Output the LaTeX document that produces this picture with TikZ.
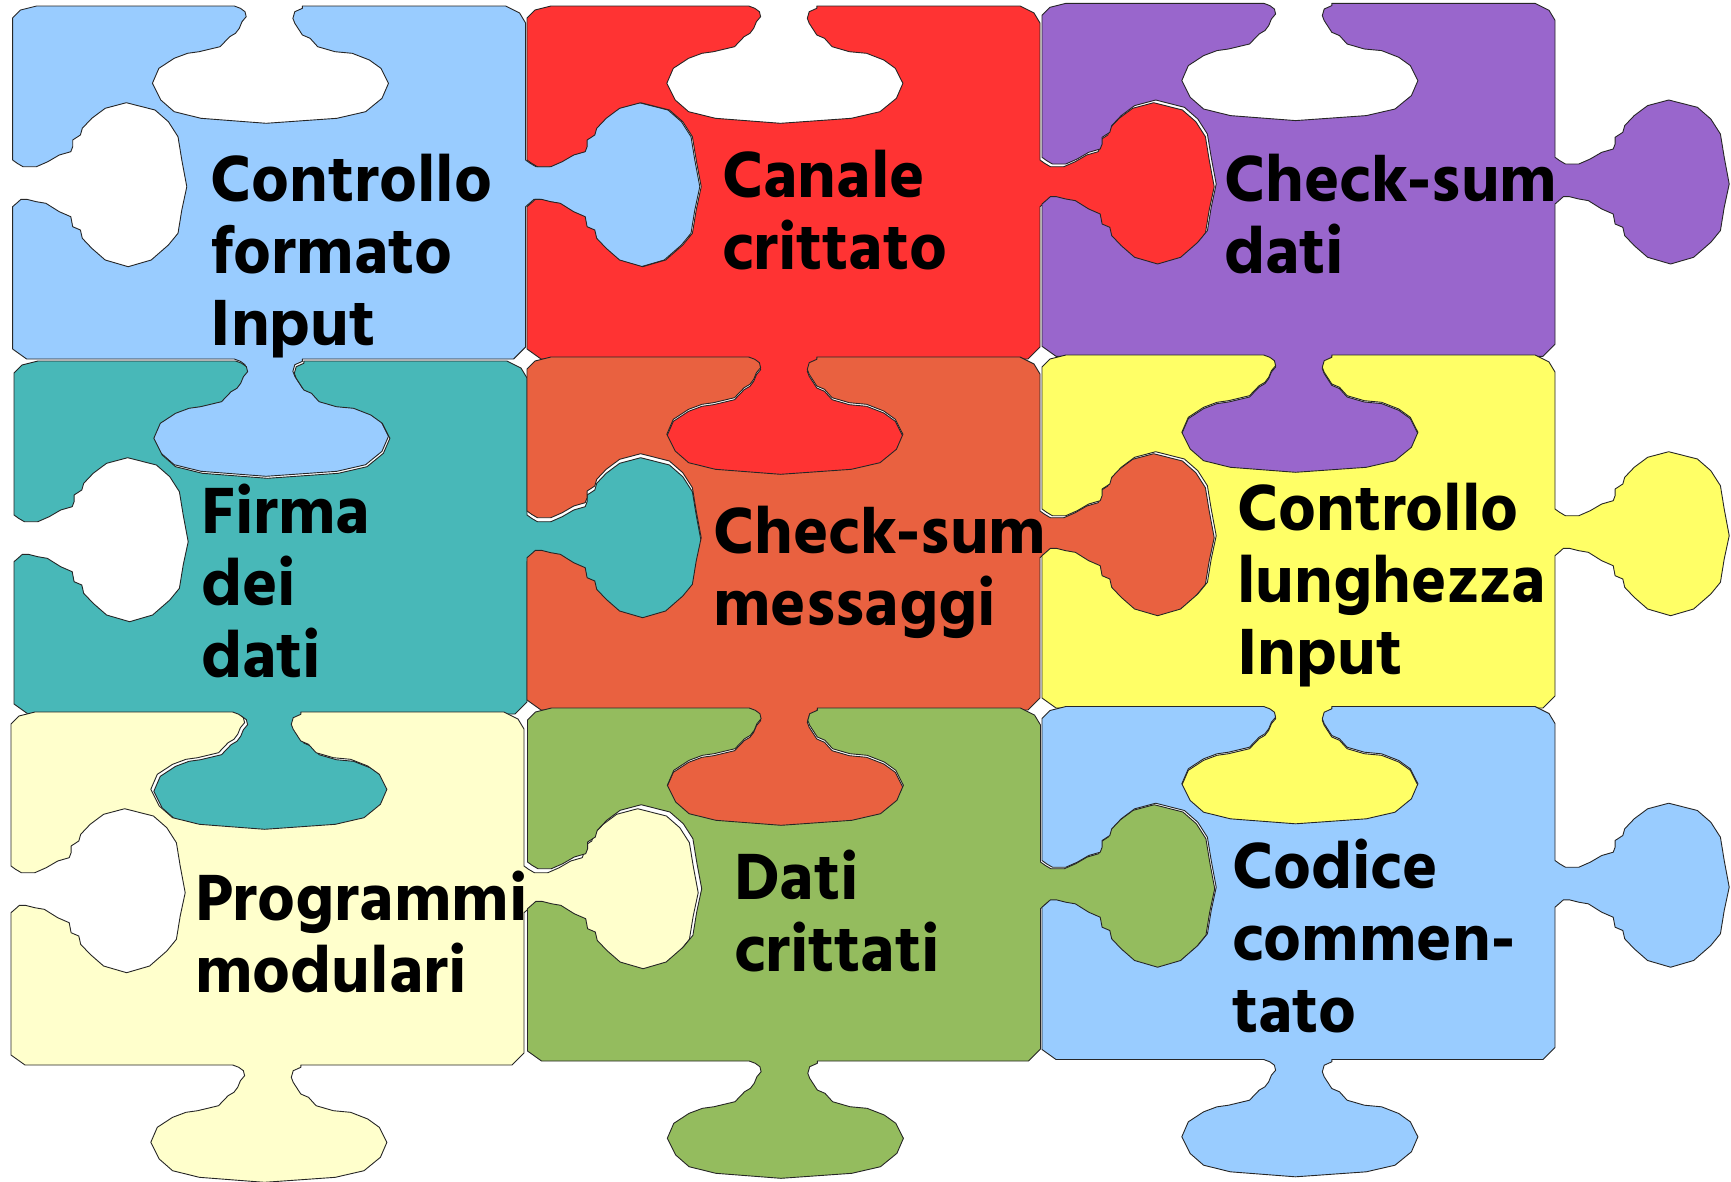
\documentclass[tikz,border=0pt]{standalone}
\usepackage{fontspec}
\setmainfont{Hind Siliguri}[BoldFont={Hind Siliguri Bold}, Ligatures=NoCommon]

\definecolor{skyblue}{HTML}{99CCFF}
\definecolor{brightred}{HTML}{FF3333}
\definecolor{lilac}{HTML}{9966CC}
\definecolor{tealgreen}{HTML}{48B8B8}
\definecolor{coral}{HTML}{E96140}
\definecolor{lemon}{HTML}{FFFF66}
\definecolor{creamy}{HTML}{FFFFCC}
\definecolor{olivegreen}{HTML}{94BC5E}

\tikzset{
  x=1pt, y=-1pt,
  piece edge/.style={draw=black!85, line width=0.9pt, line join=round},
  % one puzzle piece: blank on top and left, tab on right and bottom
  piece/.pic={
    \path[pic actions]
      (0,12) -- (8,4) -- (24,0)
      -- (221.7,0) -- (227.8,2.3) -- (232.4,5.7) -- (233.6,10.7) -- (229.4,15.7)
      -- (226.7,22.3) -- (222.9,27.3) -- (217.1,30.7) -- (207.5,40.7) -- (186.5,45.7)
      -- (175,47.3) -- (161.6,52.3) -- (146.3,62.3) -- (139.8,77.3) -- (148.2,94)
      -- (161.6,105.7) -- (188.4,112.3) -- (253.5,117.3) -- (324.3,112.3) -- (353,105.7)
      -- (369.4,92.3) -- (375.9,77.3) -- (368.3,62.3) -- (356.8,54) -- (339.6,47.3)
      -- (322.4,45.7) -- (305.1,40.7) -- (297.5,32.3) -- (289.8,29) -- (282.2,17.3)
      -- (280.3,12.3) -- (282.2,5.7) -- (289.8,2.3) -- (289.8,0)
      -- (493,0) -- (507,7) -- (513,17)
      -- (513,154) -- (517.6,157.3) -- (523.4,160.7) -- (536.8,160.7) -- (548.2,155.7)
      -- (559.7,149) -- (571.2,145.7) -- (573.1,140.7) -- (573.1,134) -- (580.8,129)
      -- (582.7,122.3) -- (592.2,112.3) -- (605.6,102.3) -- (626.7,96.7) -- (655.4,104)
      -- (668.8,115.7) -- (678.4,130.7) -- (682.2,154) -- (687.2,180.7) -- (682.2,204)
      -- (678.4,227.3) -- (668.8,239) -- (651.6,254) -- (628.6,260.7) -- (605.6,254)
      -- (592.2,242.3) -- (582.7,232.3) -- (580.8,224) -- (573.1,220.7) -- (571.2,210.7)
      -- (559.7,205.7) -- (546.3,197.3) -- (536.8,195.7) -- (527.2,193.3) -- (521.4,193.3)
      -- (517.6,196.7) -- (513,200.7)
      -- (513,341) -- (501,353)
      -- (289.8,353) -- (289.8,355.3) -- (282.2,358.7) -- (280.3,365.3) -- (282.2,370.3)
      -- (289.8,382) -- (297.5,385.3) -- (305.1,393.7) -- (322.4,398.7) -- (339.6,400.3)
      -- (356.8,407) -- (368.3,415.3) -- (375.9,430.3) -- (369.4,445.3) -- (353,458.7)
      -- (324.3,465.3) -- (253.5,470.3) -- (188.4,465.3) -- (161.6,458.7) -- (148.2,447)
      -- (139.8,430.3) -- (146.3,415.3) -- (161.6,405.3) -- (175,400.3) -- (186.5,398.7)
      -- (207.5,393.7) -- (217.1,383.7) -- (222.9,380.3) -- (226.7,375.3) -- (229.4,368.7)
      -- (233.6,363.7) -- (232.4,358.7) -- (227.8,355.3) -- (221.7,353)
      -- (14,353) -- (0,343)
      -- (0,200.7) -- (4.6,196.7) -- (8.4,193.3) -- (14.2,193.3) -- (23.8,195.7)
      -- (33.3,197.3) -- (46.7,205.7) -- (58.2,210.7) -- (60.1,220.7) -- (67.8,224)
      -- (69.7,232.3) -- (79.2,242.3) -- (92.6,254) -- (115.6,260.7) -- (138.6,254)
      -- (155.8,239) -- (165.4,227.3) -- (169.2,204) -- (174.2,180.7) -- (169.2,154)
      -- (165.4,130.7) -- (155.8,115.7) -- (142.4,104) -- (113.7,96.7) -- (92.6,102.3)
      -- (79.2,112.3) -- (69.7,122.3) -- (67.8,129) -- (60.1,134) -- (60.1,140.7)
      -- (58.2,145.7) -- (46.7,149) -- (35.2,155.7) -- (23.8,160.7) -- (10.4,160.7)
      -- (4.6,157.3) -- (0,154) -- cycle;
  },
  label text/.style={anchor=base west, inner sep=0pt, text=black,
    font=\fontsize{67}{72}\selectfont\bfseries},
}

\newcommand{\piecelines}[1]{\begin{tabular}[t]{@{}l@{}}#1\end{tabular}}

\begin{document}
\begin{tikzpicture}
  \useasboundingbox (0,0) rectangle (1731,1181);
  \fill[white] (0,0) rectangle (1731,1181);

  % top row
  \pic (p11) [piece edge, fill=skyblue]   at (12.6,6)   {piece};
  \pic (p12) [piece edge, fill=brightred] at (527,6)    {piece};
  \pic (p13) [piece edge, fill=lilac]     at (1042,3.3) {piece};
  % middle row
  \pic (p21) [piece edge, fill=tealgreen] at (14,361)   {piece};
  \pic (p22) [piece edge, fill=coral]     at (527,357)  {piece};
  \pic (p23) [piece edge, fill=lemon]     at (1042,355) {piece};
  % bottom row
  \pic (p31) [piece edge, fill=creamy]     at (11,712)    {piece};
  \pic (p32) [piece edge, fill=olivegreen] at (527.5,708) {piece};
  \pic (p33) [piece edge, fill=skyblue]    at (1042,706.5){piece};

  % captions
  \node[label text] (t11) at (210.5,201) {\piecelines{Controllo\\formato\\Input}};
  \node[label text] (t12) at (722,197)   {\piecelines{Canale\\crittato}};
  \node[label text] (t13) at (1224,201.5){\piecelines{Check-sum\\dati}};
  \node[label text] (t21) at (201,533)   {\piecelines{Firma\\dei\\dati}};
  \node[label text] (t22) at (713,553)   {\piecelines{Check-sum\\messaggi}};
  \node[label text] (t23) at (1237,530)  {\piecelines{Controllo\\lunghezza\\Input}};
  \node[label text] (t31) at (195,920)   {\piecelines{Programmi\\modulari}};
  \node[label text] (t32) at (734,899.6) {\piecelines{Dati\\crittati}};
  \node[label text] (t33) at (1232,888)  {\piecelines{Codice\\commen-\\tato}};
\end{tikzpicture}
\end{document}
